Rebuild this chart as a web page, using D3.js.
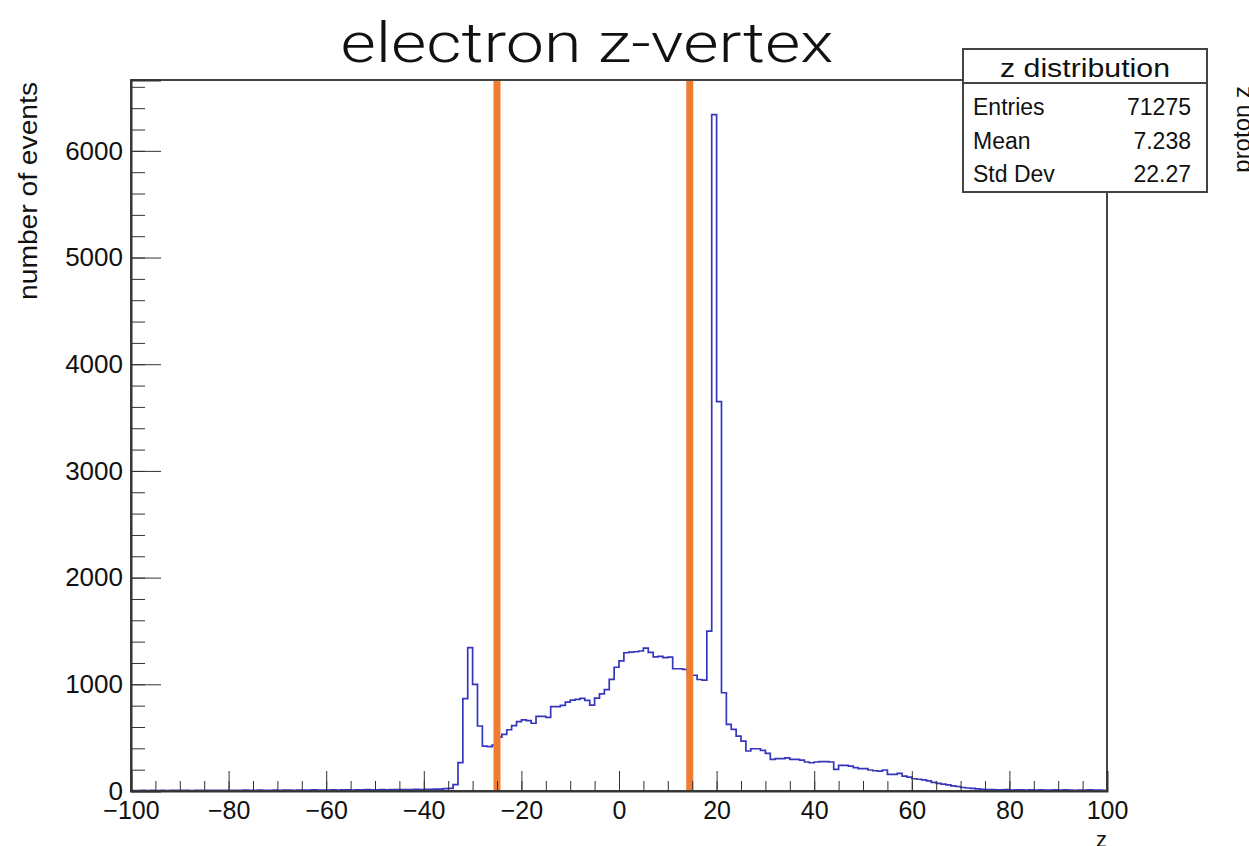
<!DOCTYPE html>
<html>
<head>
<meta charset="utf-8">
<script src="https://cdn.jsdelivr.net/npm/d3@7"></script>
<style>
body { margin: 0; background: #fff; }
svg text { font-family: "Liberation Sans", Arial, Helvetica, sans-serif; fill: #111; }
.title { font-family: Roboto, "Open Sans", sans-serif; font-weight: 300; font-size: 56px; }
.axis path, .axis line { stroke: #333; }
.axis text { font-size: 25px; }
</style>
</head>
<body>
<svg id="chart"></svg>
<script>
// histogram of electron z-vertex, 1 cm bins from -100 to 100
const zRange = [-100, 100];
const counts = [
  4, 3, 5, 4, 6, 3, 5, 4, 6, 5,            // -100 .. -91
  5, 6, 4, 7, 5, 6, 5, 7, 6, 5,            // -90 .. -81
  6, 7, 5, 8, 6, 7, 8, 6, 7, 8,            // -80 .. -71
  7, 8, 9, 7, 8, 9, 8, 10, 9, 8,           // -70 .. -61
  9, 10, 8, 11, 10, 9, 11, 10, 12, 11,     // -60 .. -51
  11, 12, 10, 13, 12, 14, 13, 12, 15, 14,  // -50 .. -41
  15, 16, 18, 17, 22, 25, 60, 266, 865, 1343,       // -40 .. -31
  1000, 609, 421, 415, 430, 505, 531, 574, 612, 650, // -30 .. -21
  667, 660, 635, 700, 700, 690, 790, 790, 802, 833,  // -20 .. -11
  852, 858, 868, 849, 805, 870, 910, 950, 1046, 1160, // -10 .. -1
  1220, 1296, 1302, 1305, 1312, 1340, 1300, 1258, 1262, 1250, // 0 .. 9
  1255, 1146, 1146, 1140, 1093, 1085, 1045, 1040, 1498, 6340, // 10 .. 19
  3650, 921, 625, 578, 515, 468, 375, 396, 396, 380,  // 20 .. 29
  353, 297, 303, 303, 310, 297, 297, 290, 272, 265,   // 30 .. 39
  272, 275, 275, 272, 203, 240, 240, 234, 219, 210,   // 40 .. 49
  210, 197, 190, 187, 197, 156, 156, 165, 140, 130,   // 50 .. 59
  115, 110, 105, 95, 80, 72, 65, 58, 48, 42,          // 60 .. 69
  33, 28, 25, 20, 16, 14, 12, 11, 10, 12,             // 70 .. 79
  9, 11, 10, 8, 10, 9, 11, 8, 9, 10,                  // 80 .. 89
  8, 10, 9, 7, 9, 8, 10, 9, 8, 7                      // 90 .. 99
];
const yMax = 6664;
const xTicks = [-100, -80, -60, -40, -20, 0, 20, 40, 60, 80, 100];
const yTicks = [0, 1000, 2000, 3000, 4000, 5000, 6000];
const cuts = [-25, 14.5];
const statsTitle = "z distribution";
const statsRows = [["Entries", "71275"], ["Mean", "7.238"], ["Std Dev", "22.27"]];

var width = 1249;
var height = 846;
const margin = { top: 80, right: 142, bottom: 55, left: 131 };

var svg = d3.select("#chart")
  .attr("width", width)
  .attr("height", height);

let x = d3.scaleLinear()
  .domain(zRange)
  .range([margin.left, width - margin.right]);

let y = d3.scaleLinear()
  .domain([0, yMax])
  .range([height - margin.bottom, margin.top]);

let binW = (zRange[1] - zRange[0]) / counts.length;
let pts = counts.map((c, i) => [zRange[0] + i * binW, c]);
pts.push([zRange[1], counts[counts.length - 1]]);

// histogram outline
svg.append("path")
  .datum(pts)
  .attr("fill", "none")
  .attr("stroke", "#3636bd")
  .attr("stroke-width", 1.7)
  .attr("d", d3.line().curve(d3.curveStepAfter).x(d => x(d[0])).y(d => y(d[1])));

// cut lines
svg.selectAll("line.cut")
  .data(cuts)
  .enter()
  .append("line")
  .attr("class", "cut")
  .attr("x1", d => x(d)).attr("x2", d => x(d))
  .attr("y1", y(yMax)).attr("y2", y(0))
  .attr("stroke", "#ee7d31")
  .attr("stroke-width", 7);

// frame
svg.append("rect")
  .attr("x", x(zRange[0])).attr("y", y(yMax))
  .attr("width", x(zRange[1]) - x(zRange[0]))
  .attr("height", y(0) - y(yMax))
  .attr("fill", "none")
  .attr("stroke", "#444")
  .attr("stroke-width", 2);

// x axis, ticks inside
svg.append("g")
  .attr("class", "axis")
  .attr("transform", `translate(0, ${y(0)})`)
  .call(d3.axisBottom(x).tickValues(d3.range(-100, 101, 5)).tickSize(-10).tickFormat(""))
  .call(g => g.select(".domain").remove());

svg.append("g")
  .attr("class", "axis")
  .attr("transform", `translate(0, ${y(0)})`)
  .call(d3.axisBottom(x).tickValues(xTicks).tickSize(-20).tickPadding(10)
    .tickFormat(d => d < 0 ? "\u2212" + Math.abs(d) : d))
  .call(g => g.select(".domain").attr("stroke-width", 2));

// y axis
svg.append("g")
  .attr("class", "axis")
  .attr("transform", `translate(${x(zRange[0])}, 0)`)
  .call(d3.axisLeft(y).tickValues(d3.range(0, yMax, 200)).tickSize(-14).tickFormat(""))
  .call(g => g.select(".domain").remove());

svg.append("g")
  .attr("class", "axis")
  .attr("transform", `translate(${x(zRange[0])}, 0)`)
  .call(d3.axisLeft(y).tickValues(yTicks).tickSize(-30).tickPadding(8).tickFormat(d3.format("d")))
  .call(g => g.select(".domain").attr("stroke-width", 2))
  .selectAll("text").style("font-size", "26px");

// titles
svg.append("text")
  .attr("class", "title")
  .attr("x", 587)
  .attr("y", 62)
  .attr("textLength", 493)
  .attr("lengthAdjust", "spacingAndGlyphs")
  .style("text-anchor", "middle")
  .text("electron z-vertex");

svg.append("text")
  .attr("transform", `translate(37, ${margin.top + 2}) rotate(-90)`)
  .attr("textLength", 218)
  .attr("lengthAdjust", "spacingAndGlyphs")
  .style("text-anchor", "end")
  .style("font-size", "25px")
  .text("number of events");

svg.append("text")
  .attr("x", x(zRange[1]))
  .attr("y", 847)
  .style("text-anchor", "end")
  .style("font-size", "22px")
  .text("z");

svg.append("text")
  .attr("transform", "translate(1250, 86) rotate(-90)")
  .style("text-anchor", "end")
  .style("font-size", "24px")
  .text("proton z");

// stats box
let box = svg.append("g").attr("transform", "translate(963, 49)");
box.append("rect")
  .attr("width", 244).attr("height", 143)
  .attr("fill", "#fff")
  .attr("stroke", "#444")
  .attr("stroke-width", 2);
box.append("line")
  .attr("x1", 0).attr("x2", 244)
  .attr("y1", 34).attr("y2", 34)
  .attr("stroke", "#444")
  .attr("stroke-width", 2);
box.append("text")
  .attr("x", 122).attr("y", 28)
  .attr("textLength", 170)
  .attr("lengthAdjust", "spacingAndGlyphs")
  .style("text-anchor", "middle")
  .style("font-size", "25px")
  .text(statsTitle);

let rows = box.selectAll("g.row")
  .data(statsRows)
  .enter()
  .append("g")
  .attr("transform", (d, i) => `translate(0, ${66 + i * 33.5})`);
rows.append("text")
  .attr("x", 10)
  .style("font-size", "23px")
  .text(d => d[0]);
rows.append("text")
  .attr("x", 228)
  .style("text-anchor", "end")
  .style("font-size", "23px")
  .text(d => d[1]);
</script>
</body>
</html>
